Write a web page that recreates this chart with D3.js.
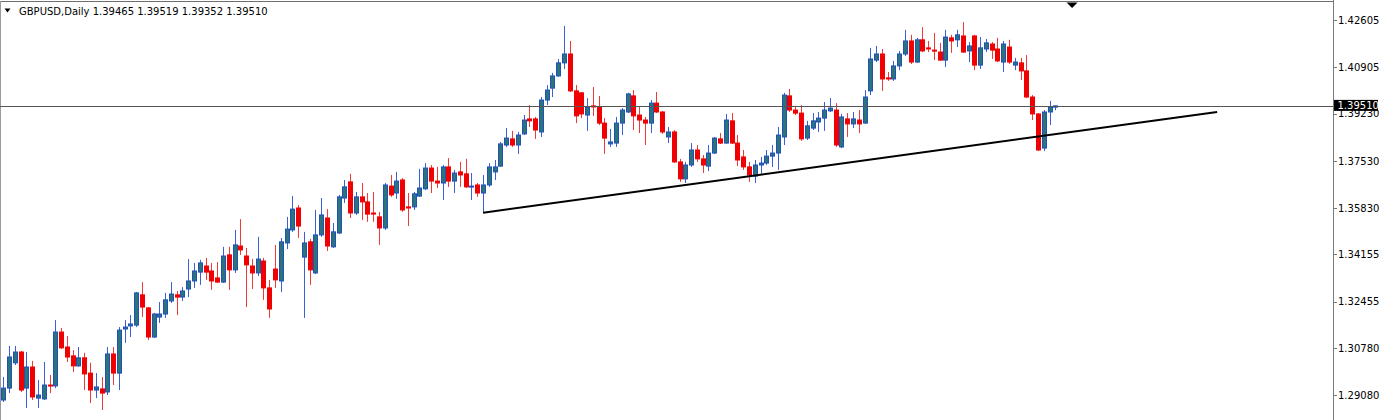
<!DOCTYPE html>
<html><head><meta charset="utf-8">
<script src="https://cdn.jsdelivr.net/npm/d3@7"></script>
<style>html,body{margin:0;padding:0;background:#fff;overflow:hidden}svg{display:block}</style>
</head><body><svg id="c" width="1386" height="420"></svg>
<script>
const symbol = "GBPUSD,Daily";
const opens = [1.2891,1.2934,1.3025,1.3064,1.2934,1.3010,1.2898,1.2895,1.2945,1.2942,1.3136,1.3082,1.3050,1.3014,1.3043,1.2988,1.2927,1.2931,1.2920,1.3057,1.2988,1.3147,1.3158,1.3161,1.3270,1.3223,1.3118,1.3190,1.3201,1.3248,1.3270,1.3262,1.3291,1.3320,1.3352,1.3374,1.3356,1.3331,1.3316,1.3414,1.3360,1.3446,1.3410,1.3374,1.3349,1.3392,1.3295,1.3363,1.3320,1.3457,1.3504,1.3583,1.3406,1.3461,1.3349,1.3486,1.3547,1.3443,1.3493,1.3619,1.3677,1.3565,1.3623,1.3605,1.3565,1.3551,1.3511,1.3662,1.3637,1.3684,1.3587,1.3587,1.3626,1.3652,1.3727,1.3680,1.3673,1.3731,1.3680,1.3713,1.3706,1.3659,1.3666,1.3637,1.3666,1.3713,1.3734,1.3810,1.3832,1.3810,1.3850,1.3904,1.3904,1.3857,1.3972,1.4015,1.4059,1.4106,1.4138,1.4005,1.3998,1.3918,1.3951,1.3947,1.3889,1.3814,1.3817,1.3889,1.3929,1.3987,1.3918,1.3900,1.3889,1.3961,1.3929,1.3839,1.3857,1.3749,1.3688,1.3738,1.3792,1.3760,1.3734,1.3781,1.3832,1.3817,1.3897,1.3817,1.3767,1.3731,1.3698,1.3738,1.3745,1.3770,1.3781,1.3839,1.3987,1.3936,1.3925,1.3835,1.3871,1.3893,1.3907,1.3933,1.3936,1.3803,1.3904,1.3886,1.3900,1.3889,1.4005,1.4116,1.4138,1.4052,1.4048,1.4095,1.4138,1.4185,1.4109,1.4189,1.4160,1.4152,1.4145,1.4116,1.4196,1.4189,1.4203,1.4149,1.4203,1.4098,1.4156,1.4174,1.4156,1.4109,1.4163,1.4098,1.4106,1.4077,1.3983,1.3922,1.3799,1.3929,1.39465];
const highs = [1.2974,1.3086,1.3086,1.3068,1.3064,1.3032,1.2963,1.3028,1.2981,1.3179,1.3151,1.3122,1.3071,1.3082,1.3061,1.3025,1.2988,1.2974,1.3082,1.3082,1.3154,1.3179,1.3197,1.3280,1.3316,1.3226,1.3205,1.3244,1.3277,1.3316,1.3284,1.3298,1.3399,1.3385,1.3396,1.3403,1.3385,1.3388,1.3443,1.3443,1.3504,1.3543,1.3439,1.3399,1.3479,1.3403,1.3324,1.3450,1.3475,1.3551,1.3626,1.3594,1.3497,1.3471,1.3576,1.3619,1.3579,1.3529,1.3630,1.3684,1.3706,1.3641,1.3673,1.3637,1.3641,1.3569,1.3673,1.3702,1.3713,1.3691,1.3637,1.3641,1.3724,1.3745,1.3738,1.3731,1.3738,1.3763,1.3720,1.3749,1.3760,1.3709,1.3673,1.3702,1.3745,1.3756,1.3821,1.3871,1.3861,1.3857,1.3918,1.3954,1.3911,1.3983,1.4026,1.4070,1.4120,1.4239,1.4185,1.4026,1.4001,1.3979,1.4019,1.3987,1.3907,1.3868,1.3911,1.3943,1.3998,1.4008,1.3947,1.3911,1.3972,1.4001,1.3933,1.3875,1.3864,1.3760,1.3749,1.3817,1.3810,1.3774,1.3810,1.3839,1.3853,1.3922,1.3925,1.3846,1.3792,1.3749,1.3756,1.3767,1.3792,1.3810,1.3875,1.3998,1.4012,1.3951,1.3954,1.3897,1.3925,1.3929,1.3965,1.3979,1.3961,1.3922,1.3925,1.3929,1.3936,1.4008,1.4160,1.4167,1.4156,1.4073,1.4113,1.4149,1.4225,1.4207,1.4196,1.4235,1.4185,1.4214,1.4178,1.4225,1.4207,1.4225,1.4253,1.4181,1.4207,1.4199,1.4192,1.4181,1.4196,1.4185,1.4189,1.4124,1.4124,1.4134,1.3990,1.3925,1.3936,1.3969,1.39519];
const lows = [1.2884,1.2916,1.3017,1.2920,1.2862,1.2891,1.2862,1.2891,1.2916,1.2934,1.3075,1.3028,1.2992,1.3010,1.2927,1.2880,1.2898,1.2855,1.2909,1.2945,1.2927,1.3097,1.3118,1.3154,1.3190,1.3107,1.3115,1.3169,1.3187,1.3241,1.3197,1.3248,1.3262,1.3295,1.3306,1.3324,1.3288,1.3313,1.3313,1.3288,1.3349,1.3414,1.3226,1.3291,1.3338,1.3252,1.3187,1.3295,1.3280,1.3435,1.3497,1.3475,1.3187,1.3306,1.3345,1.3479,1.3428,1.3439,1.3489,1.3601,1.3547,1.3558,1.3540,1.3533,1.3533,1.3450,1.3504,1.3623,1.3616,1.3569,1.3518,1.3576,1.3623,1.3648,1.3637,1.3655,1.3612,1.3659,1.3637,1.3659,1.3655,1.3612,1.3623,1.3569,1.3659,1.3684,1.3731,1.3803,1.3803,1.3778,1.3846,1.3875,1.3832,1.3839,1.3954,1.3983,1.4055,1.4084,1.4001,1.3889,1.3907,1.3861,1.3915,1.3882,1.3778,1.3803,1.3803,1.3846,1.3925,1.3864,1.3853,1.3810,1.3853,1.3925,1.3850,1.3817,1.3745,1.3677,1.3673,1.3731,1.3749,1.3709,1.3716,1.3778,1.3814,1.3814,1.3814,1.3734,1.3720,1.3677,1.3673,1.3706,1.3738,1.3731,1.3720,1.3810,1.3929,1.3918,1.3825,1.3828,1.3864,1.3857,1.3861,1.3929,1.3803,1.3799,1.3839,1.3871,1.3853,1.3886,1.3990,1.4109,1.4005,1.4041,1.4041,1.4080,1.4131,1.4102,1.4106,1.4145,1.4145,1.4116,1.4113,1.4091,1.4142,1.4163,1.4142,1.4109,1.4080,1.4084,1.4145,1.4120,1.4109,1.4073,1.4102,1.4080,1.4044,1.3979,1.3900,1.3788,1.3788,1.3882,1.39352];
const closes = [1.2934,1.3046,1.3064,1.2927,1.3010,1.2902,1.2909,1.2945,1.2942,1.3136,1.3079,1.3046,1.3014,1.3043,1.2985,1.2927,1.2938,1.2916,1.3057,1.2988,1.3143,1.3154,1.3165,1.3277,1.3226,1.3118,1.3201,1.3201,1.3252,1.3273,1.3262,1.3284,1.3320,1.3356,1.3385,1.3352,1.3320,1.3316,1.3410,1.3360,1.3450,1.3432,1.3378,1.3349,1.3399,1.3295,1.3219,1.3324,1.3461,1.3507,1.3579,1.3518,1.3457,1.3360,1.3486,1.3558,1.3446,1.3497,1.3623,1.3659,1.3565,1.3623,1.3605,1.3561,1.3561,1.3511,1.3666,1.3630,1.3680,1.3576,1.3583,1.3634,1.3655,1.3727,1.3680,1.3673,1.3731,1.3680,1.3709,1.3702,1.3659,1.3662,1.3637,1.3666,1.3731,1.3731,1.3814,1.3835,1.3810,1.3846,1.3900,1.3897,1.3864,1.3972,1.4008,1.4059,1.4106,1.4138,1.4005,1.3915,1.3922,1.3947,1.3947,1.3889,1.3835,1.3821,1.3889,1.3936,1.3994,1.3915,1.3900,1.3889,1.3961,1.3929,1.3857,1.3857,1.3749,1.3688,1.3738,1.3792,1.3760,1.3738,1.3781,1.3835,1.3817,1.3900,1.3817,1.3756,1.3731,1.3702,1.3738,1.3745,1.3770,1.3781,1.3846,1.3990,1.3936,1.3925,1.3832,1.3879,1.3897,1.3907,1.3936,1.3943,1.3810,1.3911,1.3886,1.3904,1.3886,1.3983,1.4120,1.4138,1.4048,1.4048,1.4095,1.4138,1.4185,1.4109,1.4189,1.4149,1.4156,1.4149,1.4116,1.4199,1.4185,1.4207,1.4145,1.4167,1.4098,1.4160,1.4178,1.4152,1.4113,1.4174,1.4109,1.4109,1.4077,1.3983,1.3922,1.3792,1.3929,1.3947,1.39510];
const tickLabels = ["1.42605","1.40905","1.39230","1.37530","1.35830","1.34155","1.32455","1.30780","1.29080"];
const trendIdx = [83, 210];
const trendPrice = [1.3566, 1.3929];
const bid = 1.39510;

const W = 1386, H = 420, axisX = 1333;
const svg = d3.select("#c");
const n = opens.length;
const x = d3.scaleLinear().domain([0, n - 1]).range([3.3, 1055.3]);
const y = d3.scaleLinear().domain([1.29080, 1.42605]).range([395.3, 20]);
const font = "'DejaVu Sans', Verdana, sans-serif";

// frame
svg.append("line").attr("x1", 0).attr("x2", axisX).attr("y1", 1.5).attr("y2", 1.5).attr("stroke", "#6e6e6e");
svg.append("line").attr("x1", 0.5).attr("x2", 0.5).attr("y1", 1).attr("y2", H).attr("stroke", "#9a9a9a");

const data = d3.range(n).map(i => ({i, o: opens[i], h: highs[i], l: lows[i], c: closes[i]}));
const g = svg.append("g");
g.selectAll("line.w").data(data).join("line").attr("class", "w")
  .attr("x1", d => Math.round(x(d.i)) + 0.5).attr("x2", d => Math.round(x(d.i)) + 0.5)
  .attr("y1", d => y(d.h)).attr("y2", d => y(d.l))
  .attr("stroke", d => d.c >= d.o ? "#3b5fd6" : "#f03a3a").attr("stroke-width", 1);
g.selectAll("rect.b").data(data).join("rect").attr("class", "b")
  .attr("x", d => Math.round(x(d.i)) - 1.5)
  .attr("width", 4)
  .attr("y", d => y(Math.max(d.o, d.c)))
  .attr("height", d => Math.max(1, Math.abs(y(d.o) - y(d.c))))
  .attr("fill", d => d.c >= d.o ? "#2b7478" : "#f00000")
  .attr("stroke", d => d.c >= d.o ? "#2050c0" : "#f00000")
  .attr("stroke-width", 1);

// trendline
svg.append("line")
  .attr("x1", x(trendIdx[0])).attr("y1", y(trendPrice[0]))
  .attr("x2", x(trendIdx[1])).attr("y2", y(trendPrice[1]))
  .attr("stroke", "#000").attr("stroke-width", 2);

// bid line
svg.append("line").attr("x1", 0).attr("x2", axisX).attr("y1", Math.round(y(bid)) + 0.5).attr("y2", Math.round(y(bid)) + 0.5)
  .attr("stroke", "#555").attr("stroke-width", 1);

// axis
svg.append("line").attr("x1", axisX + 0.5).attr("x2", axisX + 0.5).attr("y1", 0).attr("y2", H).attr("stroke", "#7a7a7a");
const ax = svg.append("g");
tickLabels.forEach(t => {
  const yy = y(+t);
  ax.append("line").attr("x1", axisX).attr("x2", axisX + 4).attr("y1", Math.round(yy) + 0.5).attr("y2", Math.round(yy) + 0.5).attr("stroke", "#777");
  ax.append("text").attr("x", axisX + 5).attr("y", yy + 3.8).attr("font-family", font).attr("font-size", 10).attr("fill", "#000").text(t);
});
// bid label
const by = y(bid);
svg.append("rect").attr("x", axisX + 1).attr("y", by - 6).attr("width", 44).attr("height", 11).attr("fill", "#000");
svg.append("text").attr("x", axisX + 4.5).attr("y", by + 3.6).attr("font-family", font).attr("font-size", 10).attr("fill", "#fff").text(bid.toFixed(5));

// shift marker
svg.append("path").attr("d", `M${x(n + 1.9) - 5.5},2.5 L${x(n + 1.9) + 5.5},2.5 L${x(n + 1.9)},8 Z`).attr("fill", "#000");

// header
svg.append("path").attr("d", "M4.5,8.5 L10.5,8.5 L7.5,12.5 Z").attr("fill", "#000");
const last = n - 1;
svg.append("text").attr("x", 19).attr("y", 15).attr("font-family", font).attr("font-size", 10).attr("fill", "#000")
  .text(`${symbol}  ${opens[last].toFixed(5)} ${highs[last].toFixed(5)} ${lows[last].toFixed(5)} ${closes[last].toFixed(5)}`);
</script></body></html>
